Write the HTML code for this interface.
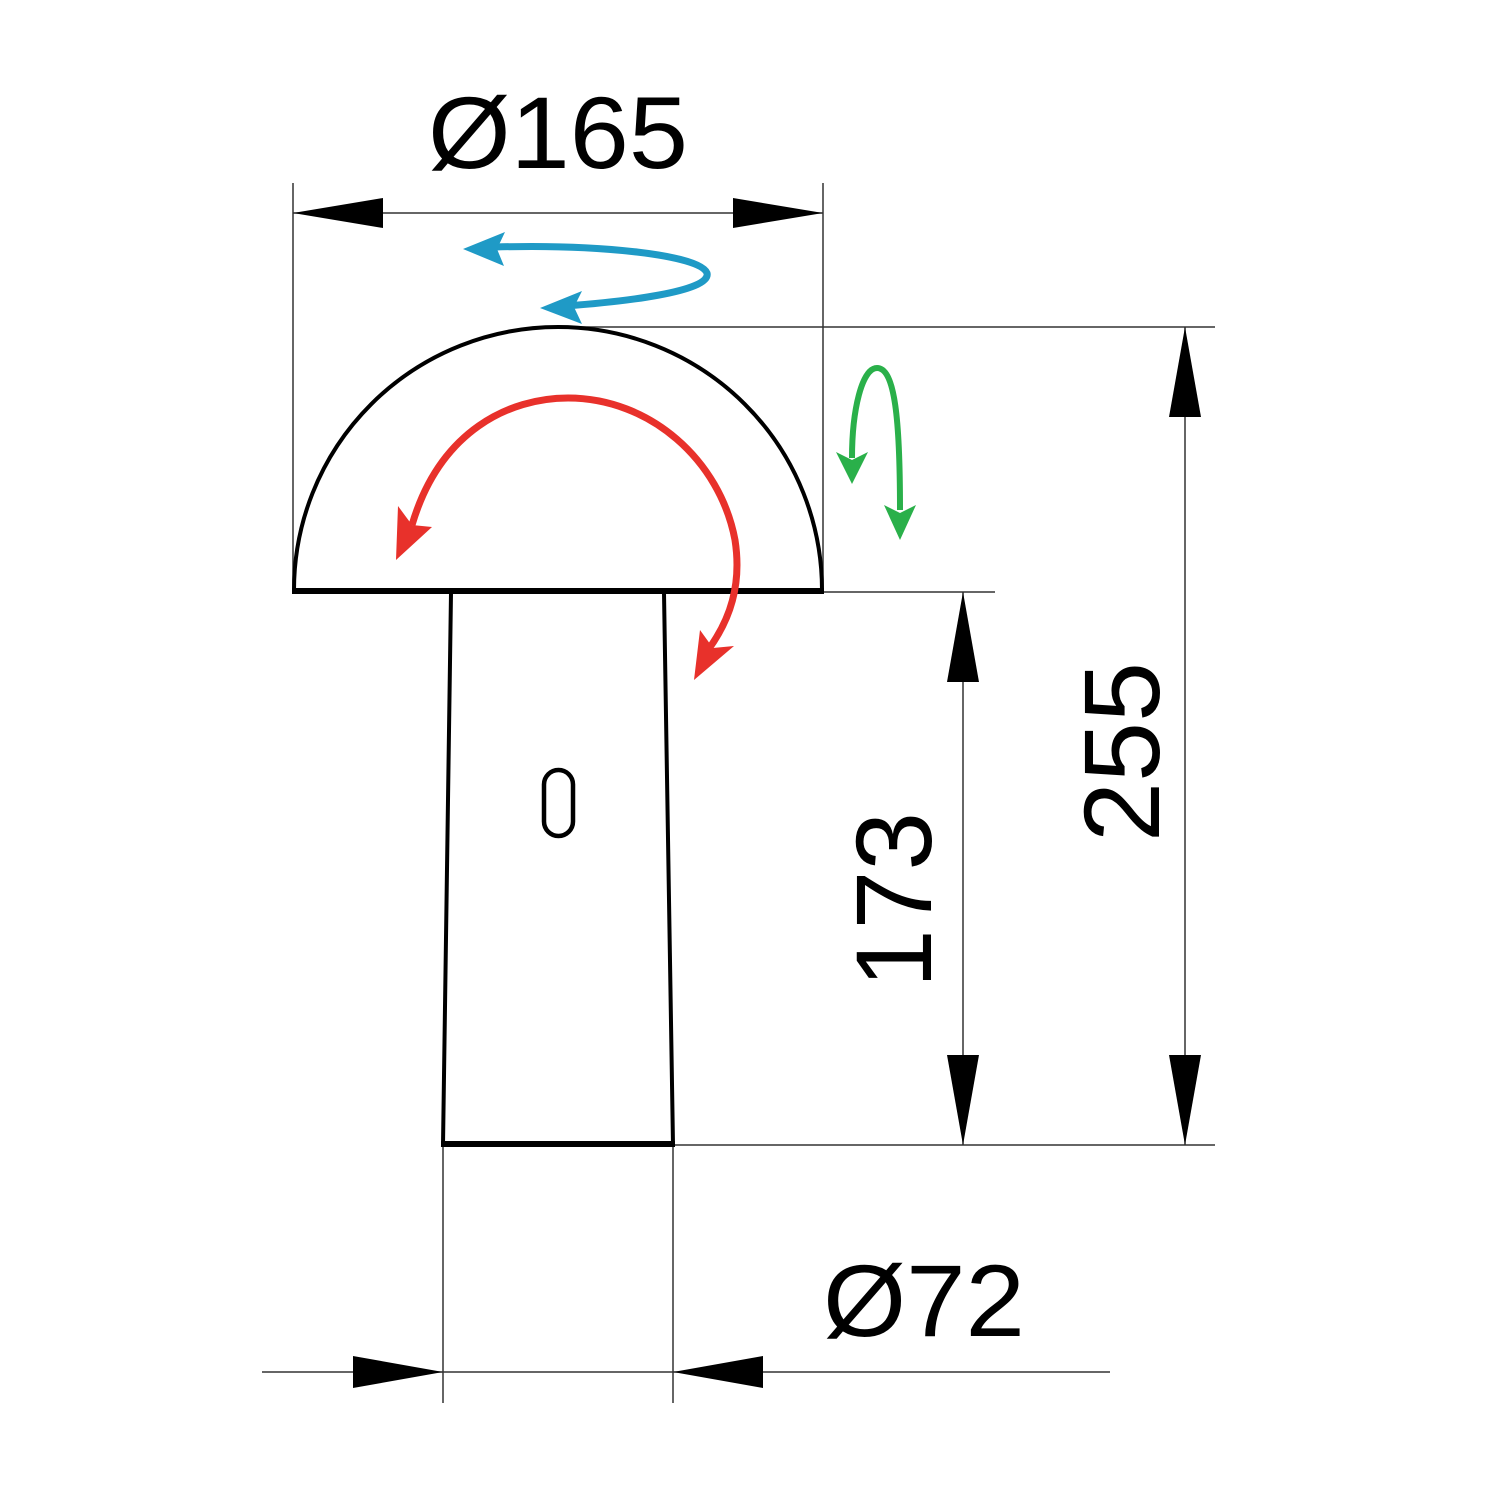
<!DOCTYPE html>
<html><head><meta charset="utf-8"><style>html,body{margin:0;padding:0;background:#fff}svg{display:block}</style></head>
<body>
<svg width="1500" height="1500" viewBox="0 0 1500 1500" xmlns="http://www.w3.org/2000/svg" font-family="Liberation Sans, Arial, sans-serif">
<rect width="1500" height="1500" fill="#fff"/>
<g stroke="#333" stroke-width="1.5" fill="none">
  <line x1="293" y1="183" x2="293" y2="590"/>
  <line x1="823" y1="183" x2="823" y2="590"/>
  <line x1="293" y1="213" x2="823" y2="213"/>
  <line x1="570" y1="327" x2="1215" y2="327"/>
  <line x1="823" y1="592" x2="995" y2="592"/>
  <line x1="673" y1="1145" x2="1215" y2="1145"/>
  <line x1="963" y1="592" x2="963" y2="1145"/>
  <line x1="1185" y1="327" x2="1185" y2="1145"/>
  <line x1="443" y1="1145" x2="443" y2="1403"/>
  <line x1="673" y1="1145" x2="673" y2="1403"/>
  <line x1="262" y1="1372" x2="1110" y2="1372"/>
</g>
<g fill="#000">
  <polygon points="293,213 383,198 383,228"/>
  <polygon points="823,213 733,198 733,228"/>
  <polygon points="963,592 947,682 979,682"/>
  <polygon points="963,1145 947,1055 979,1055"/>
  <polygon points="1185,327 1169,417 1201,417"/>
  <polygon points="1185,1145 1169,1055 1201,1055"/>
  <polygon points="443,1372 353,1356 353,1388"/>
  <polygon points="673,1372 763,1356 763,1388"/>
</g>
<path d="M294,590 A264,263 0 0 1 822,590" fill="none" stroke="#000" stroke-width="4"/>
<line x1="292" y1="591" x2="824" y2="591" stroke="#000" stroke-width="6"/>
<path d="M451,593 L443,1145 L673,1145 L664,593" fill="none" stroke="#000" stroke-width="4"/>
<line x1="441" y1="1144" x2="675" y2="1144" stroke="#000" stroke-width="6"/>
<rect x="544" y="770" width="29" height="66" rx="14.5" fill="none" stroke="#000" stroke-width="4.5"/>
<!-- blue -->
<path d="M495,247 C600,244 700,255 707,273 C712,292 620,302 565,306" fill="none" stroke="#1f9ac6" stroke-width="7"/>
<polygon points="463,249 505,232 497,249 504,266" fill="#1f9ac6"/>
<polygon points="540,308 582,291 574,307 582,324" fill="#1f9ac6"/>
<!-- red -->
<path d="M412,525 C440,430 510,398 568,398 C650,398 720,460 735,540 C742,585 730,620 708,650" fill="none" stroke="#e8312b" stroke-width="7"/>
<polygon points="396,560 398,506 412,525 432,527" fill="#e8312b"/>
<polygon points="694,680 700,630 713,648 734,646" fill="#e8312b"/>
<!-- green -->
<path d="M852,458 C852,410 862,368 877,368 C895,368 900,420 900,510" fill="none" stroke="#2ab04a" stroke-width="6"/>
<polygon points="852,484 836,452 852,460 868,452" fill="#2ab04a"/>
<polygon points="900,540 884,505 900,513 916,505" fill="#2ab04a"/>
<text x="428" y="168" font-size="102" textLength="260" lengthAdjust="spacingAndGlyphs">Ø165</text>
<text x="823" y="1336" font-size="102" textLength="202" lengthAdjust="spacingAndGlyphs">Ø72</text>
<text transform="translate(931,988) rotate(-90)" x="0" y="0" font-size="108" textLength="176" lengthAdjust="spacingAndGlyphs">173</text>
<text transform="translate(1159,842) rotate(-90)" x="0" y="0" font-size="108" textLength="180" lengthAdjust="spacingAndGlyphs">255</text>
</svg>
</body></html>
